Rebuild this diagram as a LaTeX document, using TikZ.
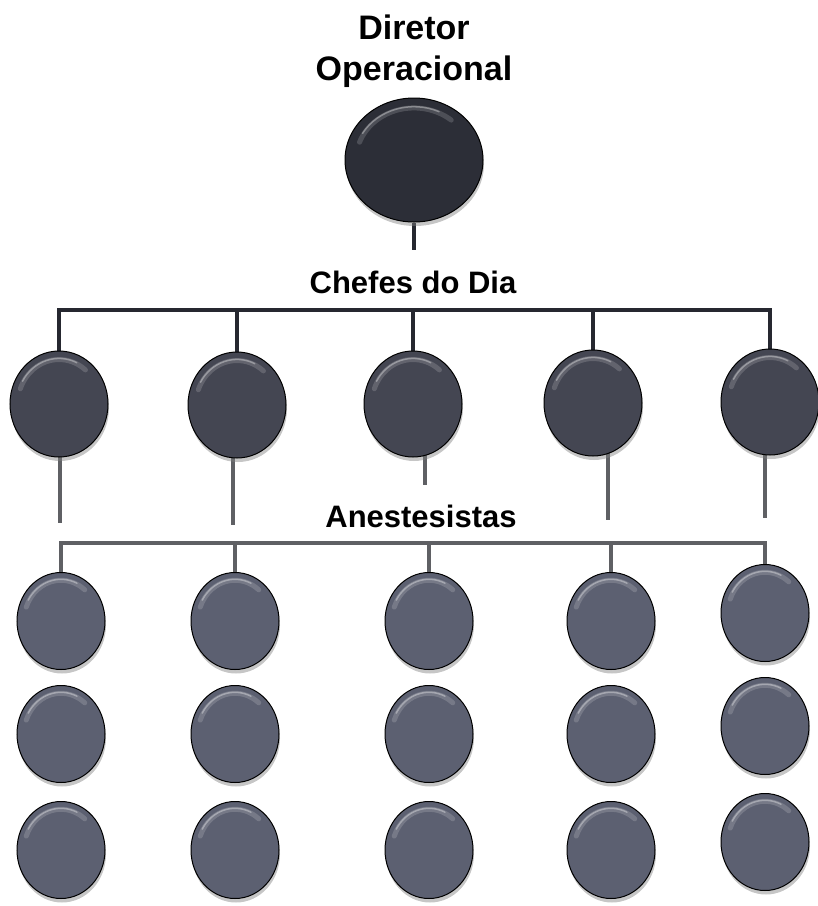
\documentclass[tikz,border=0pt]{standalone}
\usepackage{fontspec}
\setmainfont{Liberation Sans}
\usetikzlibrary{shapes.geometric, positioning, calc, shadows, backgrounds}
\definecolor{diretorgray}{RGB}{44,46,55}
\definecolor{chefegray}{RGB}{68,70,82}
\definecolor{anestgray}{RGB}{92,96,113}
\definecolor{linedark}{RGB}{38,40,48}
\definecolor{linegray}{RGB}{95,96,100}

\tikzset{
  bolha/.style={ellipse, inner sep=0pt, draw=black, line width=1pt,
    drop shadow={shadow xshift=1pt, shadow yshift=-4pt, opacity=0.45},
    path picture={
      \draw[white, opacity=0.16, line width=5pt, line cap=round]
        let \p1=(path picture bounding box.north east),
            \p2=(path picture bounding box.center),
            \n1={0.84*(\x1-\x2)}, \n2={0.84*(\y1-\y2)} in
        ($(\p2)+(160:\n1 and \n2)$)
        arc[start angle=160, end angle=50, x radius=\n1, y radius=\n2];
      \draw[white, opacity=0.35, line width=1.5pt, line cap=round]
        let \p1=(path picture bounding box.north east),
            \p2=(path picture bounding box.center),
            \n1={0.86*(\x1-\x2)}, \n2={0.86*(\y1-\y2)} in
        ($(\p2)+(150:\n1 and \n2)$)
        arc[start angle=150, end angle=65, x radius=\n1, y radius=\n2];
    }},
  diretor/.style={bolha, fill=diretorgray, minimum width=138pt, minimum height=124pt},
  chefe/.style={bolha, fill=chefegray, minimum width=98pt, minimum height=106pt},
  anest/.style={bolha, fill=anestgray, minimum width=88pt, minimum height=97pt},
  titulo/.style={font=\bfseries\fontsize{31}{38}\selectfont, inner sep=0pt},
  ligacao/.style={linedark, line width=4pt},
  ligacaob/.style={linegray, line width=3.5pt}
}

\begin{document}
\begin{tikzpicture}[x=1pt, y=-1pt]
  \useasboundingbox (0,0) rectangle (818,906);

  % Director
  \node[diretor] (diretor) at (414,160) {};
  \node[titulo, font=\bfseries\fontsize{34}{41}\selectfont, align=center,
        above=10pt of diretor] (titulodir) {Diretor\\Operacional};
  \coordinate (fimdir) at (414,250);

  % Chefes do Dia
  \node[titulo, anchor=base] (tituloch) at (413,293) {Chefes do Dia};
  \coordinate (barraA) at (414,310);
  \foreach \i/\x/\y in {1/59/404, 2/237/405, 3/413/404, 4/593/403, 5/770/402} {
    \node[chefe] (chefe\i) at (\x,\y) {};
  }

  % Anestesistas
  \node[titulo, anchor=base] (tituloan) at (421,527) {Anestesistas};
  \coordinate (barraB) at (414,543);
  \foreach \c/\x/\dy in {1/61/0, 2/235/0, 3/429/0, 4/611/0, 5/765/-8} {
    \foreach \r/\y in {1/621, 2/734, 3/850} {
      \node[anest] (an\c\r) at (\x,{\y+\dy}) {};
    }
  }

  % Stems under the chefes (free ends)
  \foreach \i/\x/\y in {1/60/523, 2/233/525, 3/425/485, 4/608/520, 5/765/518} {
    \coordinate (ponta\i) at (\x,\y);
  }

  \begin{scope}[on background layer]
    \draw[ligacao] (diretor.south) -- (fimdir);
    \draw[ligacao] (chefe1.north) |- (barraA) -| (chefe5.north);
    \foreach \i in {2,3,4} {
      \draw[ligacao] (chefe\i.north) -- (chefe\i.north |- barraA);
    }
    \foreach \i in {1,...,5} {
      \draw[ligacaob] (ponta\i |- chefe\i.center) -- (ponta\i);
    }
    \draw[ligacaob] (an11.north) |- (barraB) -| (an51.north);
    \foreach \c in {2,3,4} {
      \draw[ligacaob] (an\c1.north) -- (an\c1.north |- barraB);
    }
  \end{scope}
\end{tikzpicture}
\end{document}
